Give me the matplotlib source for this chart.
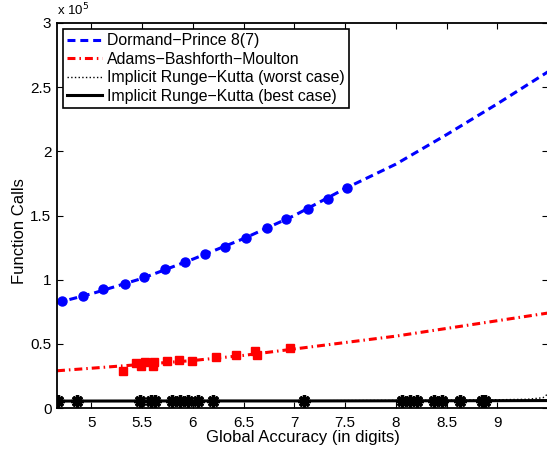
import matplotlib.pyplot as plt
import numpy as np
from matplotlib.ticker import FuncFormatter

plt.rcParams['font.family'] = ['Liberation Sans', 'DejaVu Sans']

# Dormand-Prince 8(7): measured points and fitted curve
dp_x = [4.71, 4.92, 5.11, 5.33, 5.52, 5.72, 5.92, 6.12, 6.32, 6.52, 6.73, 6.92, 7.13, 7.33, 7.52]
dp_y = [83000, 87500, 92500, 97000, 102000, 108000, 113500, 120000, 125700, 132700,
        140000, 147300, 155100, 163100, 171500]
dp_fit_x = [4.66, 5.0, 5.5, 6.0, 6.5, 7.0, 7.5, 8.0, 8.5, 9.0, 9.5]
dp_fit_y = [82000, 89000, 101000, 116000, 132000, 150000, 171000, 190000, 213000, 237000, 262000]

# Adams-Bashforth-Moulton
abm_x = [5.31, 5.44, 5.49, 5.53, 5.61, 5.62, 5.74, 5.86, 5.99, 6.23, 6.42, 6.61, 6.63, 6.96]
abm_y = [28800, 34800, 32700, 36100, 32700, 36100, 36900, 37400, 36600, 39500, 41000,
         44400, 41000, 46500]
abm_fit_x = [4.66, 5.0, 5.5, 6.0, 6.5, 7.0, 7.5, 8.0, 8.5, 9.0, 9.5]
abm_fit_y = [29000, 31000, 34000, 37000, 41000, 46000, 51000, 56000, 62000, 68000, 74000]

# Implicit Runge-Kutta
irk_x = [4.67, 4.86, 5.48, 5.59, 5.63, 5.79, 5.87, 5.95, 6.05, 6.20, 7.09,
         8.06, 8.14, 8.21, 8.38, 8.46, 8.63, 8.85, 8.88]
irk_y = [5500] * len(irk_x)
irk_worst_x = [4.66, 6.0, 7.0, 8.0, 9.0, 9.3, 9.45, 9.5]
irk_worst_y = [5200, 5400, 5600, 5900, 6400, 6800, 8000, 11000]
irk_best_x = [4.66, 6.0, 7.0, 8.0, 9.0, 9.5]
irk_best_y = [5400, 5500, 5500, 5600, 5700, 5800]

fig = plt.figure(figsize=(5.47, 4.51), dpi=100)
ax = fig.add_axes([57 / 547, 43 / 451, 491 / 547, 385 / 451])

ax.plot(dp_fit_x, dp_fit_y, color='blue', lw=2.2, dashes=(2.6, 1.6),
        label='Dormand\u2212Prince 8(7)')
ax.plot(abm_fit_x, abm_fit_y, color='red', lw=2.2, dashes=(2.6, 1.3, 0.5, 1.3),
        label='Adams\u2212Bashforth\u2212Moulton')
ax.plot(irk_worst_x, irk_worst_y, color='black', lw=1.0, ls=':',
        label='Implicit Runge\u2212Kutta (worst case)')
ax.plot(irk_best_x, irk_best_y, color='black', lw=2.2, ls='-',
        label='Implicit Runge\u2212Kutta (best case)')

ax.plot(dp_x, dp_y, 'o', color='blue', ms=6.5, mec='blue')
ax.plot(abm_x, abm_y, 's', color='red', ms=6, mec='red')
ax.plot(irk_x, irk_y, ls='none', marker=(8, 2, 0), color='black', ms=9, mew=2.4)

ax.set_xlim(4.66, 9.5)
ax.set_ylim(0, 300000)
ax.set_xticks([5, 5.5, 6, 6.5, 7, 7.5, 8, 8.5, 9])
ax.set_yticks(np.arange(0, 300001, 50000))
ax.xaxis.set_major_formatter(FuncFormatter(lambda v, p: '%g' % v))
ax.yaxis.set_major_formatter(FuncFormatter(lambda v, p: '%g' % (v / 1e5)))
ax.tick_params(direction='in', top=True, right=True, labelsize=11, length=4, width=0.8)
ax.tick_params(axis='x', pad=6)
ax.tick_params(axis='y', pad=4)
for s in ax.spines.values():
    s.set_linewidth(1.3)

ax.text(0.0, 1.012, 'x 10$^5$', transform=ax.transAxes, fontsize=9.5, ha='left', va='bottom')
ax.set_xlabel('Global Accuracy (in digits)', fontsize=12, labelpad=0)
ax.set_ylabel('Function Calls', fontsize=12)
ax.yaxis.set_label_coords(-0.062, 0.46)

leg = ax.legend(loc='upper left', fontsize=11.4, fancybox=False, framealpha=1,
                edgecolor='black', borderpad=0.25, labelspacing=0.22,
                handlelength=2.2, handletextpad=0.3, borderaxespad=0.4)
leg.get_frame().set_linewidth(1.2)

plt.savefig('out.png', dpi=100)
